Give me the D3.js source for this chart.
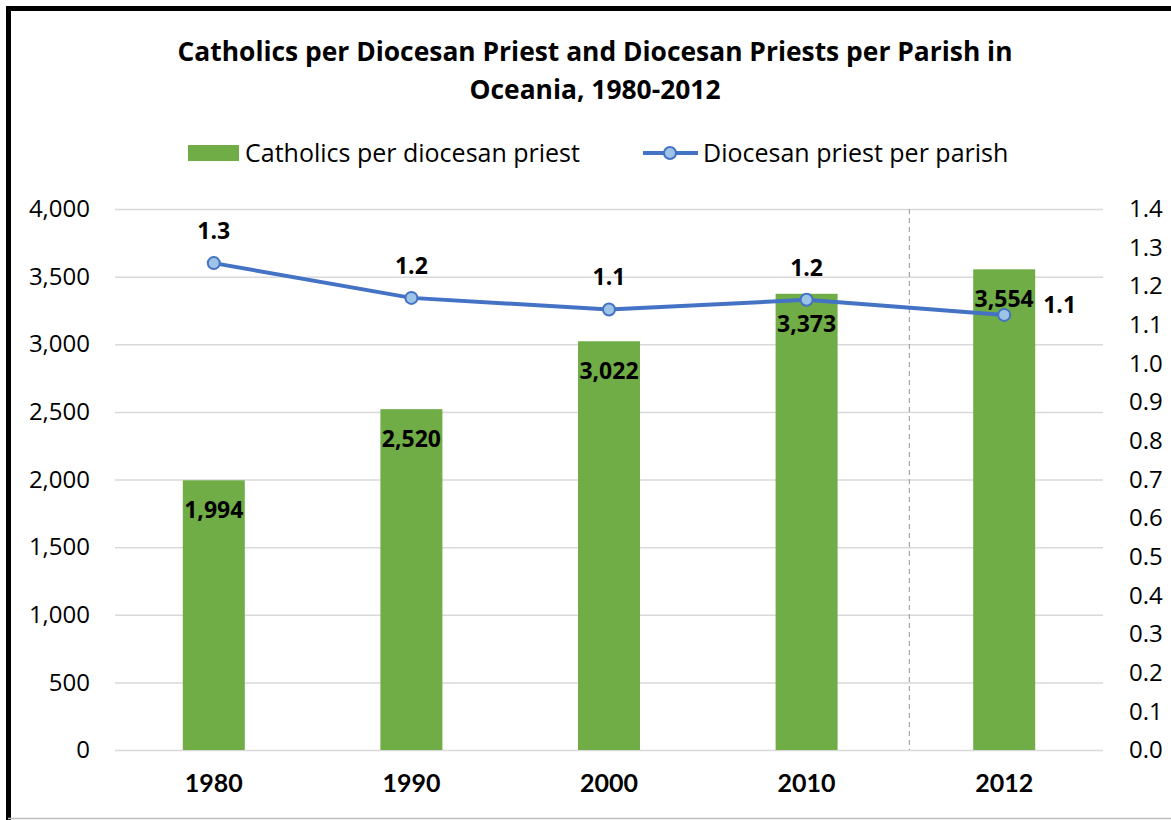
<!DOCTYPE html>
<html>
<head>
<meta charset="utf-8">
<script src="https://cdn.jsdelivr.net/npm/d3@7"></script>
<style>
  body { margin: 0; background: #fff; }
  svg text { font-family: "Open Sans", sans-serif; fill: #000; }
</style>
</head>
<body>
<div id="chart"></div>
<script>
const years = ["1980", "1990", "2000", "2010", "2012"];
const catholicsPerPriest = [1994, 2520, 3022, 3373, 3554];
const priestsPerParish = [1.26, 1.17, 1.14, 1.165, 1.126];
const leftTicks = [0, 500, 1000, 1500, 2000, 2500, 3000, 3500, 4000];
const rightTicks = [0, 0.1, 0.2, 0.3, 0.4, 0.5, 0.6, 0.7, 0.8, 0.9, 1.0, 1.1, 1.2, 1.3, 1.4];
const titleLines = ["Catholics per Diocesan Priest and Diocesan Priests per Parish in", "Oceania, 1980-2012"];

const width = 1171, height = 820;
const margin = { top: 209, right: 68, bottom: 70, left: 115 };

const svg = d3.select("#chart").append("svg")
    .attr("width", width)
    .attr("height", height);

// frame
svg.append("path")
    .attr("d", `M8.5,${height} V8.5 H${width}`)
    .attr("fill", "none")
    .attr("stroke", "#000")
    .attr("stroke-width", 5);
svg.append("line")
    .attr("x1", 8).attr("x2", width)
    .attr("y1", 818.5).attr("y2", 818.5)
    .attr("stroke", "#bfbfbf")
    .attr("stroke-width", 1.5);

const x = d3.scaleBand()
    .domain(years)
    .range([margin.left, width - margin.right]);

const yLeft = d3.scaleLinear()
    .domain([0, 4000])
    .range([height - margin.bottom, margin.top]);

const yRight = d3.scaleLinear()
    .domain([0, 1.4])
    .range([height - margin.bottom, margin.top]);

// title
svg.append("g").selectAll("text")
    .data(titleLines)
    .enter().append("text")
    .attr("x", 595)
    .attr("y", (d, i) => 61 + i * 38)
    .attr("text-anchor", "middle")
    .style("font-size", "26.4px")
    .style("font-weight", "bold")
    .text(d => d);

// gridlines
svg.append("g")
    .attr("transform", `translate(${margin.left},0)`)
    .call(d3.axisLeft(yLeft).tickValues(leftTicks).tickSize(-(width - margin.left - margin.right)).tickFormat(""))
    .call(g => g.select(".domain").remove())
    .call(g => g.selectAll("line").attr("stroke", "#d9d9d9").attr("stroke-width", 1.5));

// left axis labels
svg.append("g")
    .attr("transform", `translate(${margin.left},0)`)
    .call(d3.axisLeft(yLeft).tickValues(leftTicks).tickSize(0).tickPadding(25).tickFormat(d3.format(",")))
    .call(g => g.select(".domain").remove())
    .call(g => g.selectAll("text").style("font-size", "24px").attr("fill", "#000"));

// right axis labels
svg.append("g")
    .attr("transform", `translate(${width - margin.right},0)`)
    .call(d3.axisRight(yRight).tickValues(rightTicks).tickSize(0).tickPadding(26).tickFormat(d3.format(".1f")))
    .call(g => g.select(".domain").remove())
    .call(g => g.selectAll("text").style("font-size", "24px").attr("fill", "#000"));

// x axis labels
svg.append("g")
    .attr("transform", `translate(0,${height - margin.bottom})`)
    .call(d3.axisBottom(x).tickSize(0).tickPadding(24))
    .call(g => g.select(".domain").remove())
    .call(g => g.selectAll("text")
        .style("font-family", "Lato, sans-serif")
        .style("font-size", "25px").style("font-weight", "bold").attr("fill", "#000"));

// dashed separator before 2012
svg.append("line")
    .attr("x1", x("2012") + 4).attr("x2", x("2012") + 4)
    .attr("y1", yLeft(4000)).attr("y2", yLeft(0))
    .attr("stroke", "#a6a6a6")
    .attr("stroke-width", 1.2)
    .attr("stroke-dasharray", "5,4");

// bars
const barW = 62;
const data = years.map((y, i) => ({ year: y, bar: catholicsPerPriest[i], line: priestsPerParish[i] }));

svg.append("g").selectAll("rect")
    .data(data)
    .enter().append("rect")
    .attr("x", d => x(d.year) + x.bandwidth() / 2 - barW / 2)
    .attr("y", d => yLeft(d.bar))
    .attr("width", barW)
    .attr("height", d => yLeft(0) - yLeft(d.bar))
    .attr("fill", "#70ad47");

svg.append("g").selectAll("text")
    .data(data)
    .enter().append("text")
    .attr("x", d => x(d.year) + x.bandwidth() / 2)
    .attr("y", d => yLeft(d.bar) + 38)
    .attr("text-anchor", "middle")
    .style("font-size", "23px")
    .style("font-weight", "bold")
    .text(d => d3.format(",")(d.bar));

// line
const cx = d => x(d.year) + x.bandwidth() / 2;
svg.append("path")
    .datum(data)
    .attr("fill", "none")
    .attr("stroke", "#4472c4")
    .attr("stroke-width", 4)
    .attr("d", d3.line().x(cx).y(d => yRight(d.line)));

svg.append("g").selectAll("circle")
    .data(data)
    .enter().append("circle")
    .attr("cx", cx)
    .attr("cy", d => yRight(d.line))
    .attr("r", 6)
    .attr("fill", "#9dc3e6")
    .attr("stroke", "#4472c4")
    .attr("stroke-width", 2);

const last = data.length - 1;
svg.append("g").selectAll("text")
    .data(data)
    .enter().append("text")
    .attr("x", (d, i) => i === last ? cx(d) + 39 : cx(d))
    .attr("y", (d, i) => i === last ? yRight(d.line) - 2 : yRight(d.line) - 24)
    .attr("text-anchor", (d, i) => i === last ? "start" : "middle")
    .style("font-size", "23px")
    .style("font-weight", "bold")
    .text(d => d3.format(".1f")(d.line));

// legend
const legend = svg.append("g");
legend.append("rect")
    .attr("x", 188).attr("y", 145)
    .attr("width", 51).attr("height", 16)
    .attr("fill", "#70ad47");
legend.append("text")
    .attr("x", 245).attr("y", 162)
    .style("font-size", "25px")
    .text("Catholics per diocesan priest");
legend.append("line")
    .attr("x1", 643).attr("x2", 698)
    .attr("y1", 153).attr("y2", 153)
    .attr("stroke", "#4472c4")
    .attr("stroke-width", 4);
legend.append("circle")
    .attr("cx", 670).attr("cy", 153).attr("r", 6)
    .attr("fill", "#9dc3e6")
    .attr("stroke", "#4472c4")
    .attr("stroke-width", 2);
legend.append("text")
    .attr("x", 703).attr("y", 162)
    .style("font-size", "25px")
    .text("Diocesan priest per parish");
</script>
</body>
</html>
